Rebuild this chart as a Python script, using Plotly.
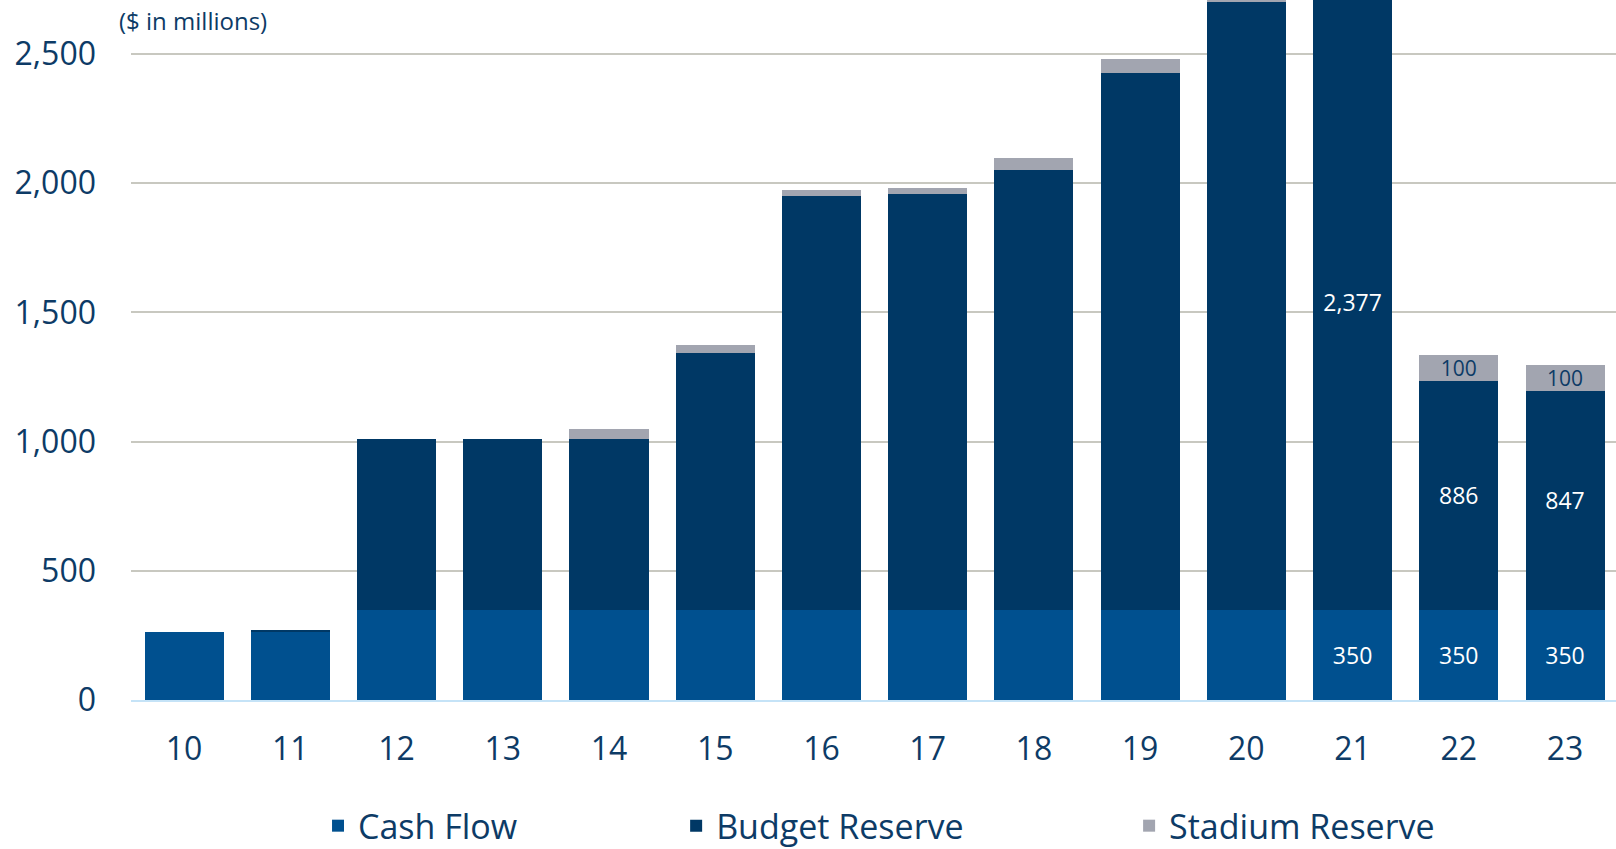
import plotly.graph_objects as go

years = ["10", "11", "12", "13", "14", "15", "16", "17", "18", "19", "20", "21", "22", "23"]
cash_flow = [263, 263, 350, 350, 350, 350, 350, 350, 350, 350, 350, 350, 350, 350]
budget_reserve = [0, 8, 662, 662, 660, 991, 1600, 1608, 1700, 2077, 2351, 2377, 886, 847]
stadium_reserve = [0, 0, 0, 0, 40, 31, 23, 23, 47, 54, 40, 50, 100, 100]

cash_labels = ["", "", "", "", "", "", "", "", "", "", "", "350", "350", "350"]
budget_labels = ["", "", "", "", "", "", "", "", "", "", "", "2,377", "886", "847"]
stadium_labels = ["", "", "", "", "", "", "", "", "", "", "", "", "100", "100"]

y_ticks = [0, 500, 1000, 1500, 2000, 2500]
y_tick_text = ["0", "500", "1,000", "1,500", "2,000", "2,500"]

C_CASH = "#00508f"
C_BUDGET = "#003865"
C_STADIUM = "#a2a5b0"
TXT = "#0d3b66"
FONT = "Open Sans"

fig = go.Figure()
fig.add_trace(go.Bar(x=years, y=cash_flow, name="Cash Flow", marker=dict(color=C_CASH, line=dict(width=0)),
                     text=cash_labels, textposition="inside", insidetextanchor="middle", constraintext="none",
                     textangle=0, textfont=dict(color="white", size=23, family=FONT), legend="legend"))
fig.add_trace(go.Bar(x=years, y=budget_reserve, name="Budget Reserve", marker=dict(color=C_BUDGET, line=dict(width=0)),
                     text=budget_labels, textposition="inside", insidetextanchor="middle", constraintext="none",
                     textangle=0, textfont=dict(color="white", size=23, family=FONT), legend="legend2"))
fig.add_trace(go.Bar(x=years, y=stadium_reserve, name="Stadium Reserve", marker=dict(color=C_STADIUM, line=dict(width=0)),
                     text=stadium_labels, textposition="inside", insidetextanchor="middle", constraintext="none",
                     textangle=0, textfont=dict(color=TXT, size=21, family=FONT), legend="legend3"))

leg_common = dict(orientation="h", yref="container", xref="container", yanchor="middle", y=0.027,
                  xanchor="left", font=dict(family=FONT, size=34, color=TXT), bgcolor="rgba(0,0,0,0)",
                  itemclick=False, itemdoubleclick=False)

fig.update_layout(
    width=1616, height=849,
    margin=dict(l=131, r=0, t=0, b=149, autoexpand=False),
    barmode="stack", bargap=0.256,
    plot_bgcolor="white", paper_bgcolor="white",
    font=dict(family=FONT, color=TXT),
    showlegend=True,
    legend=dict(x=0.1968, **leg_common),
    legend2=dict(x=0.4184, **leg_common),
    legend3=dict(x=0.6987, **leg_common),
    xaxis=dict(range=[-0.5, 13.48], showline=True, linecolor="#c5e3f7", linewidth=2,
               showgrid=False, ticks="", tickfont=dict(size=32, color=TXT, family=FONT),
               ticklabelstandoff=20, automargin=False),
    yaxis=dict(range=[0, 2709], tickvals=y_ticks, ticktext=y_tick_text, showgrid=True,
               gridcolor="#c8c8c0", gridwidth=1.5, zeroline=False, showline=False,
               tickfont=dict(size=32, color=TXT, family=FONT), ticks="", ticklabelstandoff=34,
               automargin=False),
    annotations=[dict(text="($ in millions)", xref="paper", yref="paper", x=-0.0095, y=0.971,
                      xanchor="left", yanchor="middle", showarrow=False,
                      font=dict(family=FONT, size=24, color=TXT))],
)

fig.write_html("out.html", config={"displayModeBar": False},
               post_script="document.body.style.margin='0';")
